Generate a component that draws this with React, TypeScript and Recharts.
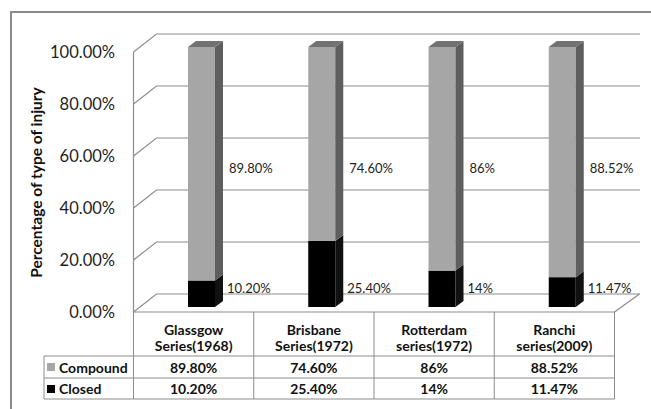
import React from 'react';
import { BarChart, Bar, XAxis, YAxis, CartesianGrid, LabelList } from 'recharts';

const CATEGORIES = ['Glassgow Series(1968)', 'Brisbane Series(1972)', 'Rotterdam series(1972)', 'Ranchi series(2009)'];
const COMPOUND = [89.8, 74.6, 86, 88.52];
const CLOSED = [10.2, 25.4, 14, 11.47];
const COMPOUND_TEXT = ['89.80%', '74.60%', '86%', '88.52%'];
const CLOSED_TEXT = ['10.20%', '25.40%', '14%', '11.47%'];
const Y_TICKS = [0, 20, 40, 60, 80, 100];

const data = CATEGORIES.map((name, i) => ({
  name,
  closed: CLOSED[i],
  compound: COMPOUND[i],
}));

const W = 651;
const H = 409;
const MARGIN = { top: 47, right: 29, bottom: 0, left: 41 };
const Y_AXIS_W = 100;
const X_AXIS_H = 102;
const PLOT_LEFT = MARGIN.left + Y_AXIS_W;
const PLOT_RIGHT = W - MARGIN.right;
const PLOT_TOP = MARGIN.top;
const PLOT_BOTTOM = H - MARGIN.bottom - X_AXIS_H;
const BAND = (PLOT_RIGHT - PLOT_LEFT) / CATEGORIES.length;

// 3d wall offsets
const FRONT_DY = 5;
const BACK_DY = -13;
const WALL_DX = 23;
const BAR_DX = 8;
const BAR_DY = 6;
const COL_SHIFT = 7.5;

const TABLE_TOP = PLOT_BOTTOM + FRONT_DY;
const HEADER_BOTTOM = 356;
const ROW1_BOTTOM = 378;
const ROW2_BOTTOM = 399;
const LEGEND_LEFT = 44;

const FONT = 'Lato, "Liberation Sans", sans-serif';
const LINE = '#8c8c8c';

const CompoundShape = (props: any) => {
  const { x, y, width, height } = props;
  return (
    <g>
      <rect x={x} y={y} width={width} height={height} fill="#a6a6a6" />
      <polygon
        points={`${x + width},${y} ${x + width + BAR_DX},${y - BAR_DY} ${x + width + BAR_DX},${y + height - BAR_DY} ${x + width},${y + height}`}
        fill="#5e5e5e"
      />
      <polygon
        points={`${x},${y} ${x + BAR_DX},${y - BAR_DY} ${x + width + BAR_DX},${y - BAR_DY} ${x + width},${y}`}
        fill="#727272"
      />
    </g>
  );
};

const ClosedShape = (props: any) => {
  const { x, y, width, height } = props;
  return (
    <g>
      <rect x={x} y={y} width={width} height={height} fill="#000" />
      <polygon
        points={`${x + width},${y} ${x + width + BAR_DX},${y - BAR_DY} ${x + width + BAR_DX},${y + height - BAR_DY} ${x + width},${y + height}`}
        fill="#111"
      />
    </g>
  );
};

const GridLine = (props: any) => {
  const { x1, x2, y1 } = props;
  const front = y1 + FRONT_DY;
  const back = y1 + BACK_DY;
  return (
    <path
      key={props.key}
      d={`M${x1 - COL_SHIFT},${front} L${x1 - COL_SHIFT + WALL_DX},${back} L${x2 + 18},${back}`}
      stroke={LINE}
      strokeWidth={1.2}
      fill="none"
    />
  );
};

const YTick = (props: any) => {
  const { y, payload } = props;
  return (
    <text x={115} y={y + FRONT_DY + 6} textAnchor="end" fontSize={16.5} fontFamily={FONT} fill="#1e1e1e">
      {`${Number(payload.value).toFixed(2)}%`}
    </text>
  );
};

const XTick = (props: any) => {
  const { x, index } = props;
  const name: string = CATEGORIES[index];
  const sp = name.indexOf(' ');
  const cx = x - COL_SHIFT;
  const left = cx - BAND / 2;
  const right = cx + BAND / 2;
  const last = index === CATEGORIES.length - 1;
  const first = index === 0;
  const txt = { fontFamily: FONT, fontSize: 14, fontWeight: 700, fill: '#111', textAnchor: 'middle' as const };
  return (
    <g>
      <line x1={left} y1={TABLE_TOP} x2={left} y2={ROW2_BOTTOM} stroke={LINE} />
      {[TABLE_TOP, HEADER_BOTTOM, ROW1_BOTTOM, ROW2_BOTTOM].map((ly) => (
        <line key={ly} x1={left} y1={ly} x2={right} y2={ly} stroke={LINE} />
      ))}
      {last && (
        <g>
          <line x1={right} y1={TABLE_TOP} x2={right} y2={ROW2_BOTTOM} stroke={LINE} />
          <line x1={right} y1={TABLE_TOP} x2={right + 25} y2={PLOT_BOTTOM + BACK_DY} stroke={LINE} strokeWidth={1.2} />
        </g>
      )}
      <text x={cx} y={334.5} {...txt}>{name.slice(0, sp)}</text>
      <text x={cx} y={350.5} {...txt}>{name.slice(sp + 1)}</text>
      <text x={cx} y={372.5} {...txt}>{COMPOUND_TEXT[index]}</text>
      <text x={cx} y={394} {...txt}>{CLOSED_TEXT[index]}</text>
      {first && (
        <g>
          <line x1={left} y1={PLOT_TOP + FRONT_DY} x2={left} y2={TABLE_TOP} stroke={LINE} strokeWidth={1.2} />
          <line x1={LEGEND_LEFT} y1={HEADER_BOTTOM} x2={left} y2={HEADER_BOTTOM} stroke={LINE} />
          <line x1={LEGEND_LEFT} y1={ROW1_BOTTOM} x2={left} y2={ROW1_BOTTOM} stroke={LINE} />
          <line x1={LEGEND_LEFT} y1={ROW2_BOTTOM} x2={left} y2={ROW2_BOTTOM} stroke={LINE} />
          <line x1={LEGEND_LEFT} y1={HEADER_BOTTOM} x2={LEGEND_LEFT} y2={ROW2_BOTTOM} stroke={LINE} />
          <rect x={47} y={363} width={8} height={8} fill="#a6a6a6" />
          <rect x={47} y={385} width={8} height={8} fill="#000" />
          <text x={59} y={372.5} {...txt} textAnchor="start">Compound</text>
          <text x={59} y={394} {...txt} textAnchor="start">Closed</text>
          <text
            x={0}
            y={0}
            transform="translate(42,182.5) rotate(-90)"
            textAnchor="middle"
            fontFamily={FONT}
            fontSize={15.5}
            fontWeight={700}
            fill="#111"
          >
            Percentage of type of injury
          </text>
        </g>
      )}
    </g>
  );
};

const CompoundLabel = (props: any) => {
  const { x, y, width, index } = props;
  return (
    <text x={x + width + 14} y={y + 126} fontFamily={FONT} fontSize={13} fill="#1e1e1e">
      {COMPOUND_TEXT[index]}
    </text>
  );
};

const ClosedLabel = (props: any) => {
  const { x, y, width, height, index } = props;
  return (
    <text x={x + width + 12} y={y + height - 14} fontFamily={FONT} fontSize={13} fill="#1e1e1e">
      {CLOSED_TEXT[index]}
    </text>
  );
};

export default function App() {
  return (
    <div style={{ position: 'absolute', left: 0, top: 0, width: W, height: H, background: '#fff' }}>
      <div
        style={{
          position: 'absolute',
          left: 10,
          top: 11,
          width: W - 10,
          height: H - 11,
          borderLeft: '2px solid #8a8a8a',
          borderTop: '2px solid #8a8a8a',
          boxSizing: 'border-box',
        }}
      />
      <div style={{ position: 'absolute', left: 0, top: 0 }}>
        <BarChart width={W} height={H} data={data} margin={MARGIN}>
          <CartesianGrid vertical={false} horizontal={GridLine} />
          <XAxis
            dataKey="name"
            height={X_AXIS_H}
            axisLine={false}
            tickLine={false}
            tick={XTick}
            interval={0}
          />
          <YAxis
            width={Y_AXIS_W}
            domain={[0, 100]}
            ticks={Y_TICKS}
            axisLine={false}
            tickLine={false}
            tick={YTick}
            interval={0}
          />
          <Bar dataKey="closed" stackId="a" barSize={27} shape={ClosedShape} isAnimationActive={false}>
            <LabelList dataKey="closed" content={ClosedLabel} />
          </Bar>
          <Bar dataKey="compound" stackId="a" barSize={27} shape={CompoundShape} isAnimationActive={false}>
            <LabelList dataKey="compound" content={CompoundLabel} />
          </Bar>
        </BarChart>
      </div>
    </div>
  );
}
